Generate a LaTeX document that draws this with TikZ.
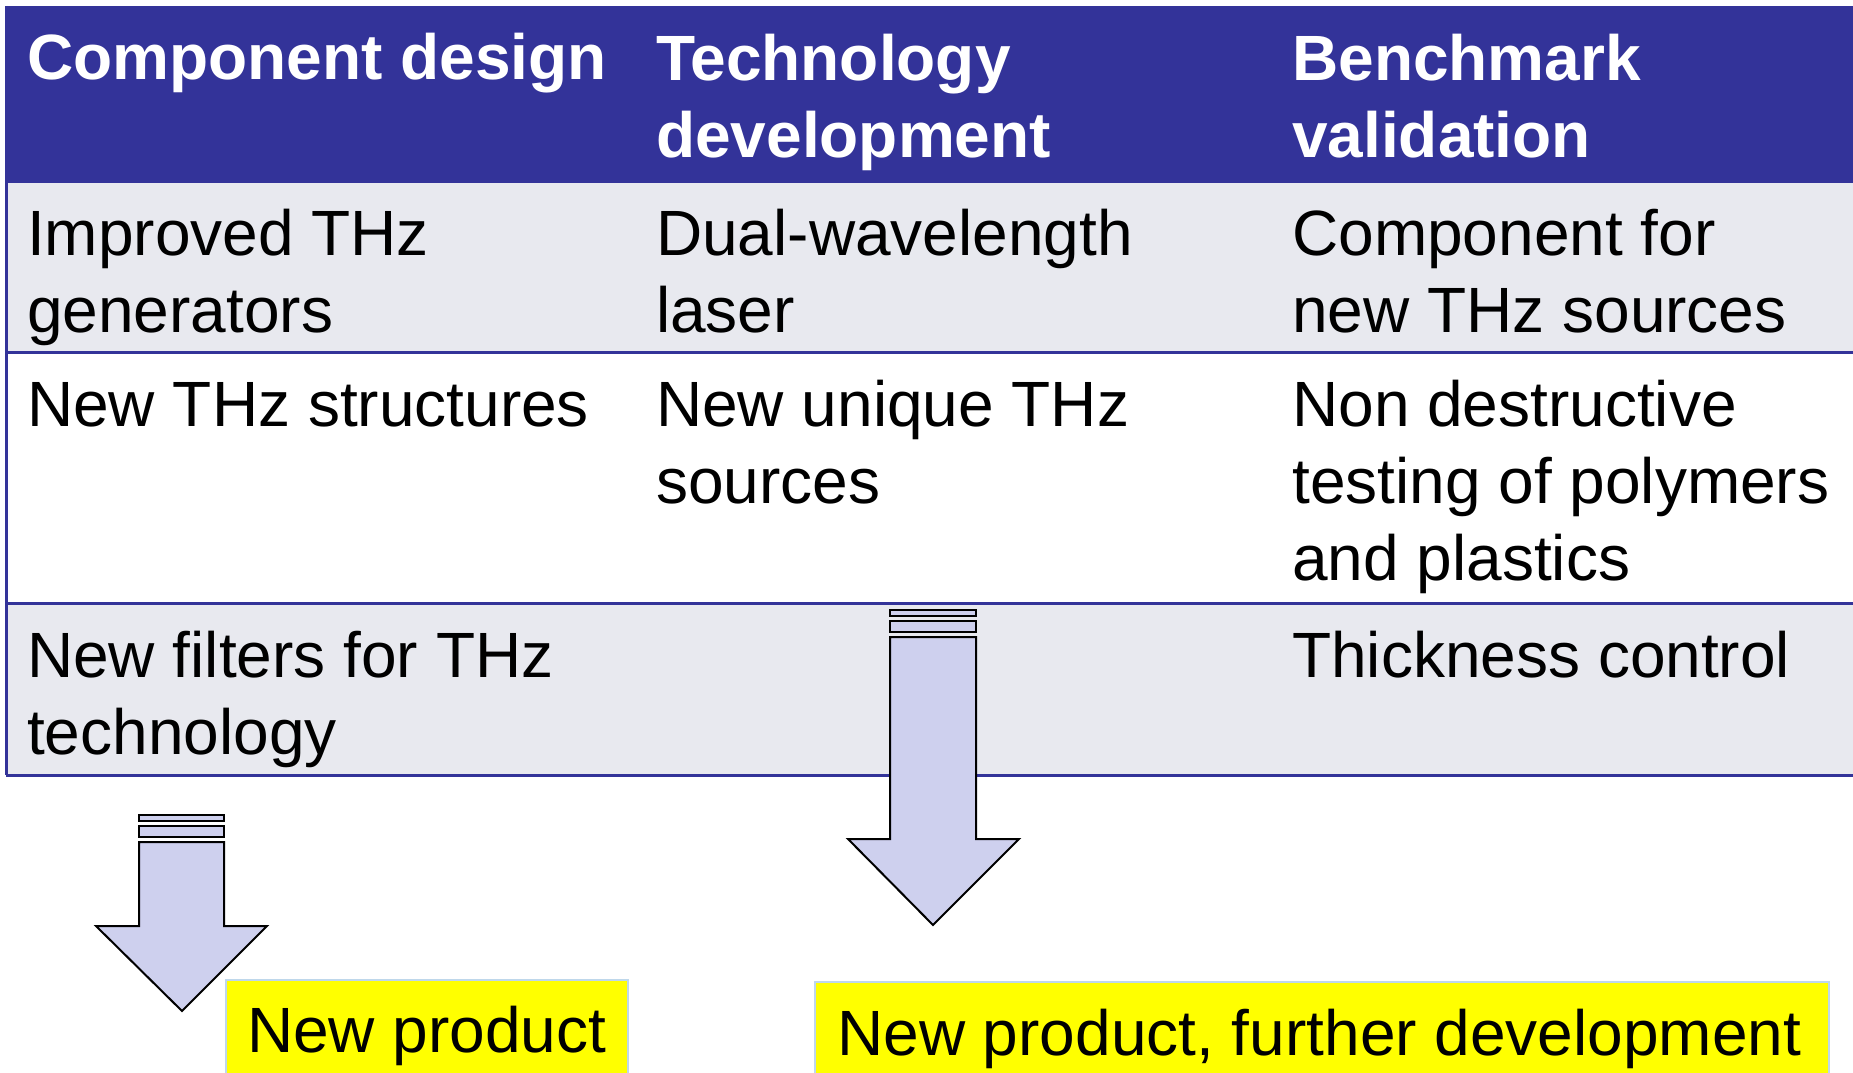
\documentclass[tikz,border=0pt]{standalone}
\usepackage{fontspec}
\setmainfont{Liberation Sans}
\definecolor{hdrblue}{RGB}{51,51,153}
\definecolor{rowgrey}{RGB}{232,233,239}
\definecolor{arrowfill}{RGB}{206,208,238}
\definecolor{boxyellow}{RGB}{255,255,0}
\definecolor{boxedge}{RGB}{190,215,235}
\begin{document}
\begin{tikzpicture}[x=1pt,y=-1pt,
  celltext/.style={font=\fontsize{64}{77}\selectfont, inner sep=0pt, anchor=base west, align=left, text=black},
  headtext/.style={celltext, font=\fontsize{64}{77}\selectfont\bfseries, text=white},
  rowline/.style={draw=hdrblue, line width=3pt},
  arrowshape/.style={fill=arrowfill, draw=black, line width=2pt, line join=miter},
  yellowbox/.style={fill=boxyellow, draw=boxedge, line width=1.5pt}]
\useasboundingbox (0,0) rectangle (1853,1073);
\clip (0,0) rectangle (1853,1073);
% table backgrounds
\fill[hdrblue] (6,6) rectangle (1853,181);
\fill[rowgrey] (6,181) rectangle (1853,352);
\fill[white] (6,352) rectangle (1853,603);
\fill[rowgrey] (6,603) rectangle (1853,775);
% table lines
\draw[rowline] (6,181) -- (1853,181);
\draw[rowline] (6,352) -- (1853,352);
\draw[rowline] (6,603) -- (1853,603);
\draw[rowline] (6,775) -- (1853,775);
\draw[rowline] (6,6) -- (6,775);
% header (base anchor = baseline of last line)
\node[headtext] (h1) at (27,80) {Component design};
\node[headtext] (h2) at (656,157) {Technology\\development};
\node[headtext] (h3) at (1292,157) {Benchmark\\validation};
% row 1
\node[celltext] (r1c1) at (27,332) {Improved THz\\generators};
\node[celltext] (r1c2) at (656,332) {Dual-wavelength\\laser};
\node[celltext] (r1c3) at (1292,332) {Component for\\new THz sources};
% row 2
\node[celltext] (r2c1) at (27,426) {New THz structures};
\node[celltext] (r2c2) at (656,503) {New unique THz\\sources};
\node[celltext] (r2c3) at (1292,580) {Non destructive\\testing of polymers\\and plastics};
% row 3
\node[celltext] (r3c1) at (27,754) {New filters for THz\\technology};
\node[celltext] (r3c3) at (1292,677) {Thickness control};
% big arrow
\draw[arrowshape] (890,610) rectangle (976,616);
\draw[arrowshape] (890,621) rectangle (976,632);
\draw[arrowshape] (890,637) -- (976,637) -- (976,839) -- (1019,839) -- (933,925) -- (848,839) -- (890,839) -- cycle;
% small arrow
\draw[arrowshape] (139,815) rectangle (224,821);
\draw[arrowshape] (139,826) rectangle (224,837);
\draw[arrowshape] (139,842) -- (224,842) -- (224,926) -- (267,926) -- (182,1011) -- (96,926) -- (139,926) -- cycle;
% yellow boxes
\draw[yellowbox] (226,980) rectangle (628,1110);
\draw[yellowbox] (815,982) rectangle (1829,1110);
\node[celltext] (y1) at (247,1052) {New product};
\node[celltext] (y2) at (837,1055) {New product, further development};
\end{tikzpicture}
\end{document}
